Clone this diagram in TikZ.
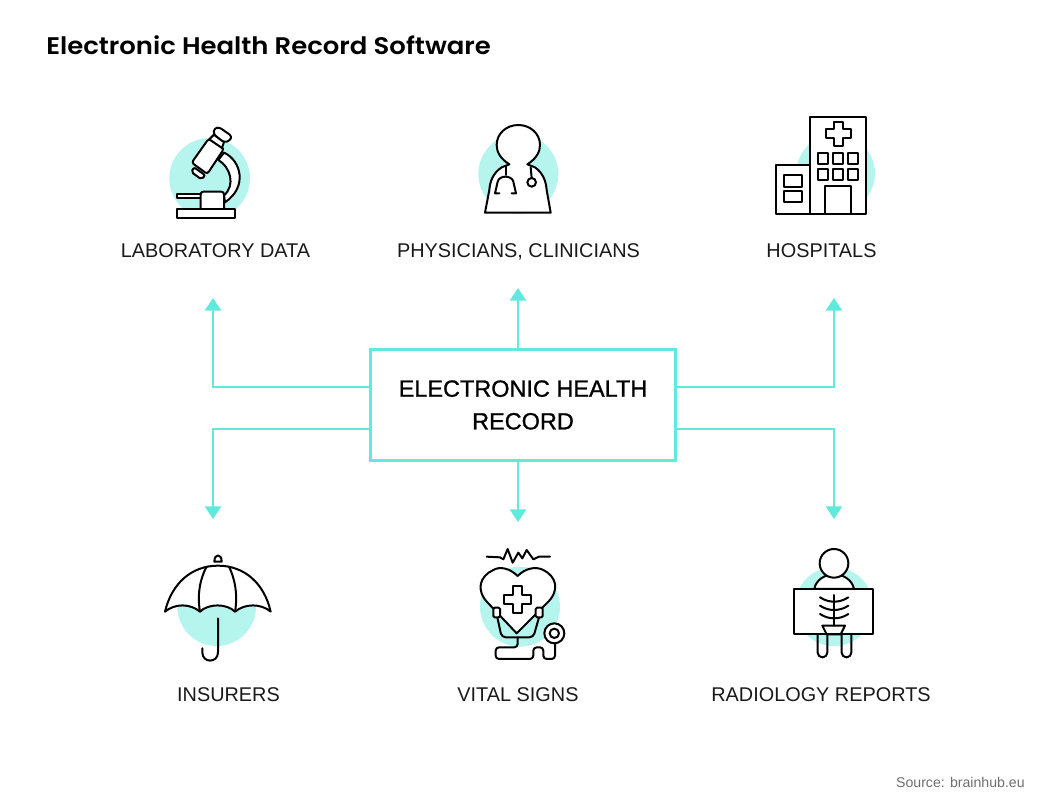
\documentclass[tikz,border=0pt]{standalone}
\usepackage{fontspec}
\setmainfont{Liberation Sans}
\newfontfamily\titlefont[FakeStretch=1.08,UprightFont=* SemiBold]{Poppins}
\newfontfamily\boxfont[FakeBold=1]{Liberation Sans}
\usetikzlibrary{arrows.meta,calc}
\definecolor{tealline}{HTML}{60E9DD}
\definecolor{tealdisc}{HTML}{B5F5EE}
\definecolor{sourcegray}{HTML}{6E6E6E}
\tikzset{
    conn/.style={draw=tealline,line width=2.2pt,-{Triangle[width=12pt,length=9.5pt]}},
    icon/.style={draw=black,line width=1.5pt,fill=white,line join=round,line cap=round},
    disc/.style={fill=tealdisc,draw=none},
    caption/.style={anchor=base,font=\fontsize{14.9}{18}\selectfont,text=black!90,inner sep=0pt}
}
\begin{document}
\begin{tikzpicture}[x=0.75pt,y=-0.75pt]
    \useasboundingbox (0,0) rectangle (1040,802);
    %% title
    \node[anchor=west,inner sep=0pt,font=\titlefont\fontsize{18}{20}\selectfont] (title) at (46,45) {Electronic Health Record Software};
    %% centre box
    \node[draw=tealline,line width=1.9pt,minimum width=229pt,minimum height=83pt,align=center,inner sep=0pt,font=\boxfont\fontsize{17.6}{24.5}\selectfont] (ehr) at (523,405) {ELECTRONIC HEALTH\\RECORD};
    %% labels
    \node[caption] (lab) at (215.5,258) {LABORATORY DATA};
    \node[caption] (phy) at (518.5,258) {PHYSICIANS, CLINICIANS};
    \node[caption] (hos) at (821.5,258) {HOSPITALS};
    \node[caption] (ins) at (228.5,701) {INSURERS};
    \node[caption] (vit) at (518,701) {VITAL SIGNS};
    \node[caption] (rad) at (821,701) {RADIOLOGY REPORTS};
    \node[anchor=east,inner sep=0pt,text=sourcegray,font=\fontsize{10.6}{12}\selectfont] (src) at (1025,782) {Source: brainhub.eu};
    %% arrows
    \coordinate (labtip) at (213,298);
    \coordinate (phytip) at (518,288);
    \coordinate (hostip) at (834,298);
    \coordinate (instip) at (213,519);
    \coordinate (vittip) at (518,522);
    \coordinate (radtip) at (834,519);
    \draw[conn] ($(ehr.west)+(0,-18)$) -| (labtip);
    \draw[conn] (ehr.north -| phytip) -- (phytip);
    \draw[conn] ($(ehr.east)+(0,-18)$) -| (hostip);
    \draw[conn] ($(ehr.west)+(0,24)$) -| (instip);
    \draw[conn] (ehr.south -| vittip) -- (vittip);
    \draw[conn] ($(ehr.east)+(0,24)$) -| (radtip);
    %% microscope
    \begin{scope}[shift={(150,110)},scale=1/3]
        \fill[disc] (179,205) circle (121);
        \draw[icon] (222,128) .. controls (272,150) and (295,230) .. (225,277) -- (222,256) .. controls (258,225) and (240,170) .. (205,150) -- cycle;
        \draw[icon,rounded corners=2pt] (176,86) -- (222,116) -- (172,192) -- (125,158) -- cycle;
        \draw[icon,rounded corners=1.5pt] (132,172) -- (166,196) -- (154,208) -- (124,186) -- cycle;
        \draw[icon] (192,74) -- (178,88) -- (216,114) -- (222,96) -- cycle;
        \draw[icon,rounded corners=2pt] (194,54) -- (208,52) -- (245,78) -- (240,92) -- (222,97) -- (190,72) -- cycle;
        \draw[icon] (80,252) rectangle (152,265);
        \draw[icon,rounded corners=2pt] (152,297) -- (152,245) -- (222,245) -- (222,297);
        \draw[icon] (82,297) rectangle (255,325);
    \end{scope}
    %% physician
    \begin{scope}[shift={(460,110)},scale=1/3]
        \fill[disc] (175,192) circle (120);
        \draw[icon] (148,163) .. controls (120,145) and (110,125) .. (110,105) .. controls (110,70) and (140,45) .. (175,45)
            .. controls (210,45) and (240,70) .. (240,105) .. controls (240,125) and (230,145) .. (202,163)
            -- (225,172) .. controls (250,190) and (258,215) .. (260,240) -- (272,308) -- (75,308) -- (88,240)
            .. controls (90,215) and (98,190) .. (125,172) -- cycle;
        \draw[icon,fill=none] (137,170) -- (137,195);
        \draw[icon,fill=none] (118,250) -- (105,250) -- (113,215) .. controls (118,195) and (155,195) .. (160,215) -- (168,250) -- (155,250);
        \draw[icon,fill=none] (212,172) -- (215,204);
        \draw[icon] (215,217) circle (13);
    \end{scope}
    %% hospital
    \begin{scope}[shift={(760,105)},scale=1/3]
        \fill[disc] (227,205) circle (118);
        \draw[icon] (150,35) rectangle (317,328);
        \draw[icon] (47,180) rectangle (150,328);
        \draw[icon] (222,50) -- (248,50) -- (248,73) -- (272,73) -- (272,98) -- (248,98) -- (248,122) -- (222,122) -- (222,98) -- (198,98) -- (198,73) -- (222,73) -- cycle;
        \foreach \xa in {173,218,263}
            \foreach \ya in {145,192}
                \draw[icon] (\xa,\ya) rectangle +(30,33);
        \draw[icon] (195,243) rectangle (272,328);
        \draw[icon] (73,210) rectangle (125,245);
        \draw[icon] (73,257) rectangle (125,290);
    \end{scope}
    %% umbrella
    \begin{scope}[shift={(155,545)},scale=1/3]
        \fill[disc] (185,185) circle (118);
        \draw[icon] (178,50) .. controls (178,25) and (200,25) .. (200,50) -- cycle;
        \draw[icon] (30,200) .. controls (50,115) and (110,62) .. (189,62) .. controls (268,62) and (328,115) .. (347,200)
            .. controls (318,175) and (270,175) .. (240,200) .. controls (215,175) and (160,175) .. (135,200)
            .. controls (105,175) and (60,175) .. cycle;
        \draw[icon,fill=none] (135,200) .. controls (125,145) and (138,95) .. (155,65);
        \draw[icon,fill=none] (240,200) .. controls (250,145) and (237,95) .. (222,65);
        \draw[icon,fill=none] (189,220) -- (189,322) .. controls (189,355) and (142,355) .. (142,322) -- (142,310);
    \end{scope}
    %% vital signs
    \begin{scope}[shift={(465,540)},scale=1/3]
        \fill[disc] (165,200) circle (120);
        \draw[icon,fill=none] (65,50) -- (105,52) -- (115,58) -- (128,27) -- (143,68) -- (160,38) -- (172,55) -- (185,30) -- (205,58) -- (222,50) -- (255,50);
        \draw[icon] (158,108) .. controls (135,85) and (105,78) .. (85,90) .. controls (45,108) and (30,150) .. (70,190)
            -- (155,280) -- (245,190) .. controls (288,150) and (272,108) .. (235,90) .. controls (212,78) and (180,85) .. cycle;
        \draw[icon,fill=none] (144,138) -- (172,138) -- (172,164) -- (198,164) -- (198,192) -- (172,192) -- (172,220) -- (144,220) -- (144,192) -- (118,192) -- (118,164) -- (144,164) -- cycle;
        \draw[icon,fill=none,rounded corners=3pt] (97,232) -- (110,292) -- (205,292) -- (222,232);
        \draw[icon,rounded corners=1pt] (85,203) rectangle (105,232);
        \draw[icon,rounded corners=1pt] (212,203) rectangle (233,232);
        \draw[icon,fill=none,rounded corners=2.5pt] (158,292) -- (158,322) -- (92,322) -- (92,357) -- (205,357) -- (205,322) -- (235,322) -- (235,357) -- (270,357) -- (270,310);
        \draw[icon] (268,280) circle (30);
        \draw[icon] (268,280) circle (14);
    \end{scope}
    %% radiology
    \begin{scope}[shift={(775,540)},scale=1/3]
        \fill[disc] (177,200) circle (118);
        \draw[icon] (118,147) .. controls (122,120) and (150,103) .. (177,103) .. controls (205,103) and (232,120) .. (237,147) -- cycle;
        \draw[icon] (177,70) circle (43);
        \draw[icon,fill=none,rounded corners=3.5pt] (128,283) -- (128,352) -- (157,352) -- (157,283);
        \draw[icon,fill=none,rounded corners=3.5pt] (200,283) -- (200,352) -- (229,352) -- (229,283);
        \draw[icon] (58,147) rectangle (295,283);
        \draw[icon,fill=none] (177,165) -- (177,257);
        \foreach \ya in {172,197,222}
            \draw[icon,fill=none] (135,\ya) .. controls (150,\ya+10) and (165,\ya+13) .. (177,\ya+13) .. controls (190,\ya+13) and (205,\ya+10) .. (220,\ya);
        \draw[icon,fill=none] (142,257) -- (210,257) -- (197,283) -- (155,283) -- cycle;
    \end{scope}
\end{tikzpicture}
\end{document}
